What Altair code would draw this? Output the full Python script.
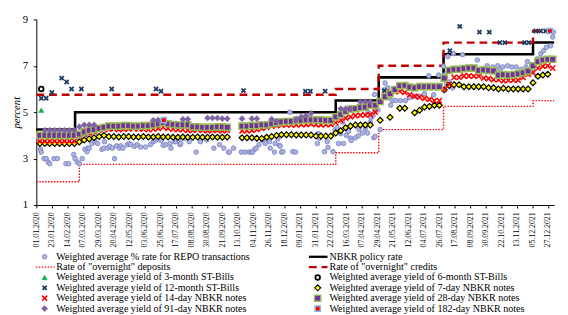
import altair as alt
import pandas as pd

# ---------------- data ----------------
S_REPO = "Weighted average % rate for REPO transactions"
S_POL = "NBKR policy rate"
S_DEP = 'Rate of "overnight" deposits'
S_CRED = 'Rate of "overnight" credits'
S_3M = "Weighted average yield of 3-month ST-Bills"
S_6M = "Weighted average yield of 6-month ST-Bills"
S_12M = "Weighted average yield of 12-month ST-Bills"
S_7D = "Weighted average yield of 7-day NBKR notes"
S_14D = "Weighted average yield of 14-day NBKR notes"
S_28D = "Weighted average yield of 28-day NBKR notes"
S_91D = "Weighted average yield of 91-day NBKR notes"
S_182D = "Weighted average yield of 182-day NBKR notes"

x_ticks = ["01.01.2020", "23.01.2020", "14.02.2020", "07.03.2020", "29.03.2020", "20.04.2020",
           "12.05.2020", "03.06.2020", "25.06.2020", "17.07.2020", "08.08.2020", "30.08.2020",
           "21.09.2020", "13.10.2020", "04.11.2020", "26.11.2020", "18.12.2020", "09.01.2021",
           "31.01.2021", "22.02.2021", "16.03.2021", "07.04.2021", "29.04.2021", "21.05.2021",
           "12.06.2021", "04.07.2021", "26.07.2021", "17.08.2021", "08.09.2021", "30.09.2021",
           "22.10.2021", "13.11.2021", "05.12.2021", "27.12.2021"]
y_ticks = [1, 3, 5, 7, 9]
x_domain = ["2020-01-01", "2022-01-05"]

policy_dates = ["2020-01-01", "2020-02-25", "2021-03-01", "2021-05-01", "2021-08-01", "2021-12-06", "2022-01-05"]
policy_vals = [4.25, 5.0, 5.5, 6.5, 7.5, 8.0, 8.0]
credit_dates = ["2020-01-01", "2021-03-01", "2021-05-01", "2021-08-01", "2021-12-06", "2022-01-05"]
credit_vals = [5.75, 6.0, 7.0, 8.0, 8.5, 8.5]
deposit_dates = ["2020-01-01", "2020-03-02", "2021-03-01", "2021-05-01", "2021-08-01", "2021-12-06", "2022-01-05"]
deposit_vals = [2.0, 2.75, 3.25, 4.25, 5.25, 5.5, 5.5]

# weekly auction results (first week 2020-01-06)
week_start = "2020-01-06"
seven_day = ([3.65, 3.65, 3.65, 3.65, 3.65, 3.65, 3.65, 3.65,
              3.72, 3.8, 3.85, 3.9, 3.95, 4.0,
              3.95, 3.95, 3.93, 3.95, 3.95, 3.93, 3.93, 3.95, 3.93, 3.93, 3.95, 3.93, 3.93,
              3.92, 3.92, 3.93, 3.92, 3.92, 3.93, 3.92, 3.92, 3.93, 3.92, 3.92, 3.93,
              None, None,
              3.9, 3.9, 3.9, 3.88, 3.87, 3.92, 3.95, 4.0, 4.03, 4.03, 4.03,
              4.02, 4.02, 4.02, 4.02, 3.97, 3.97, 3.97, 3.97,
              4.1, 4.2, 4.33, 4.4, 4.45, 4.45, 4.45, 4.45,
              None, 4.65, None, 4.78, None, 5.17, 5.17, None, 4.98, 5.08, 5.22, 5.25, 5.3, 5.3,
              5.97, 6.15, 6.18, 6.18,
              6.1, 6.1, 6.1, 6.1, 6.1, 6.05, 6.05, 6.0, 6.03, 6.0, 6.0, 6.0, 6.0, 6.0,
              6.27, 6.55, 6.6, 6.64, None])
fourteen_day = ([3.75, 3.75, 3.75, 3.75, 3.75, 3.75, 3.75, 3.75,
                 3.95, 4.05, 4.1, 4.15, 4.22,
                 4.25, 4.27, 4.28, 4.25, 4.27, 4.28, 4.3, 4.28, 4.27, 4.25,
                 4.27, 4.3, 4.35, 4.3, 4.27, 4.25, 4.25, 4.22, 4.22, 4.25,
                 4.22, 4.2, 4.22, 4.22, 4.2, 4.22,
                 None, None,
                 4.2, 4.2, 4.22, 4.25, 4.3, 4.35, 4.4, 4.42, 4.45, 4.45, 4.45,
                 4.45, 4.47, 4.47, 4.5, 4.47, 4.45, 4.47, 4.47,
                 4.55, 4.65, 4.75, 4.8, 4.85, 4.87, 4.88, 4.9, 5.0,
                 5.5, 5.75, 5.88, 5.88, 5.9, 5.85, 5.75, 5.68, 5.65, 5.6, 5.55, 5.5, 5.5,
                 6.0, 6.2, 6.5, 6.5, 6.56, 6.56, 6.55, 6.55, 6.47, 6.45, 6.4, 6.4,
                 6.35, 6.38, 6.38, 6.38, 6.5, 6.63, 6.7, 6.9, 6.98, 7.0, 6.9])
twentyeight_day = ([4.0, 4.0, 4.0, 4.0, 4.0, 4.0, 4.0, 4.0,
                    4.05, 4.15, 4.22, 4.25, 4.3, 4.35, 4.4,
                    4.4, 4.4, 4.42, 4.42, 4.4, 4.4, 4.42, 4.42, 4.45,
                    4.5, 4.55, 4.5, 4.47, 4.45, 4.45, 4.45,
                    4.37, 4.37, 4.35, 4.35, 4.35, 4.37, 4.37, 4.35,
                    None, None,
                    4.4, 4.4, 4.42, 4.42, 4.45, 4.45, 4.5, 4.55, 4.58, 4.6, 4.6,
                    4.65, 4.65, 4.67, 4.67, 4.67, 4.67, 4.65, 4.65,
                    4.8, 4.9, 5.03, 5.13, 5.15, 5.2, 5.22, 5.3, 5.3,
                    5.46, 5.67, 5.8, 5.97, 6.14, 6.15, 6.08, 6.05, 6.1, 6.1, 6.1, 6.1, 6.1,
                    6.47, 6.8, 6.85, 6.85, 6.88, 6.9, 6.9, 6.8, 6.82, 6.8, 6.78, 6.6,
                    6.62, 6.6, 6.62, 6.65, 6.7, 6.77, 7.0, 7.18, 7.25, 7.28, 7.28])
ninety_one_day = ([None]
                  + [4.22, 4.22, 4.22, 4.22, 4.22, 4.22, 4.22]
                  + [4.37, 4.45, 4.45, 4.45]
                  + [None] * 11
                  + [4.65, 4.66]
                  + [None] * 4
                  + [4.7, 4.7]
                  + [None] * 3
                  + [4.75, 4.75, 4.75, 4.72, 4.72]
                  + [None] * 2
                  + [4.72, None, 4.72, 4.72, None, None, 4.7, 4.62]
                  + [None] * 3
                  + [4.7, 4.8, 4.85, 4.95]
                  + [None] * 5
                  + [5.15, 5.15, 5.15, None, 5.45, 5.45, 5.45]
                  + [None] * 37)

repo_dates = ["2020-01-07", "2020-01-08", "2020-01-12", "2020-01-15", "2020-01-18", "2020-01-20",
              "2020-01-26", "2020-01-31", "2020-02-12", "2020-02-16", "2020-02-23", "2020-02-25",
              "2020-02-28", "2020-03-02", "2020-03-06", "2020-03-10", "2020-03-13", "2020-03-14",
              "2020-03-16", "2020-03-20", "2020-03-24", "2020-03-28", "2020-04-03", "2020-04-06",
              "2020-04-07", "2020-04-11", "2020-04-14", "2020-04-18", "2020-04-21", "2020-04-24",
              "2020-04-28", "2020-04-30", "2020-05-03", "2020-05-09", "2020-05-12", "2020-05-14",
              "2020-05-19", "2020-05-23", "2020-05-28", "2020-06-04", "2020-06-11", "2020-06-15",
              "2020-06-18", "2020-06-22", "2020-06-26", "2020-06-29", "2020-07-03", "2020-07-09",
              "2020-07-10", "2020-07-16", "2020-07-17", "2020-07-21", "2020-07-23", "2020-07-24",
              "2020-07-30", "2020-08-05", "2020-08-15", "2020-08-21", "2020-08-30", "2020-09-09",
              "2020-09-17", "2020-09-23", "2020-09-30", "2020-10-01", "2020-10-07", "2020-10-18",
              "2020-10-23", "2020-10-29", "2020-11-01", "2020-11-03", "2020-11-06", "2020-11-08",
              "2020-11-12", "2020-11-17", "2020-11-21", "2020-11-27", "2020-11-28", "2020-12-04",
              "2020-12-05", "2020-12-09", "2020-12-11", "2020-12-12", "2020-12-14", "2020-12-16",
              "2020-12-26", "2020-12-30",
              "2021-01-03", "2021-02-03", "2021-02-04", "2021-02-06", "2021-02-13", "2021-02-17",
              "2021-02-18", "2021-02-25", "2021-02-28", "2021-03-03", "2021-03-05", "2021-03-08",
              "2021-03-11", "2021-03-12", "2021-03-16", "2021-03-19", "2021-03-22", "2021-03-23",
              "2021-03-29", "2021-04-02", "2021-04-03", "2021-04-08", "2021-04-12", "2021-04-13",
              "2021-04-15", "2021-04-16", "2021-04-19", "2021-04-20", "2021-04-23", "2021-04-24",
              "2021-04-25", "2021-04-26", "2021-04-27", "2021-04-30", "2021-05-03", "2021-05-09",
              "2021-05-10", "2021-05-14", "2021-05-16", "2021-05-18", "2021-05-20", "2021-05-25",
              "2021-06-01", "2021-06-08", "2021-06-14", "2021-06-21", "2021-06-27", "2021-07-05",
              "2021-07-11", "2021-07-18", "2021-07-25", "2021-08-01", "2021-08-02", "2021-08-05",
              "2021-08-07", "2021-08-09", "2021-08-14", "2021-08-15", "2021-08-28", "2021-09-18",
              "2021-10-02", "2021-10-03", "2021-10-10", "2021-10-17", "2021-10-20", "2021-10-24",
              "2021-10-31", "2021-11-06", "2021-11-12", "2021-11-19", "2021-11-26", "2021-11-28",
              "2021-12-05", "2021-12-12", "2021-12-17", "2021-12-21", "2021-12-25", "2021-12-31",
              "2022-01-03", "2022-01-04"]
repo_vals = [3.4, 3.28, 3.0, 3.0, 2.85, 2.78,
             3.0, 3.0, 2.78, 2.78, 3.18, 3.0,
             2.85, 2.78, 3.0, 3.4, 3.3, 3.45,
             3.45, 3.65, 3.73, 3.65, 3.4, 3.45,
             3.73, 3.45, 3.53, 3.45, 3.0, 3.55,
             3.45, 3.55, 3.45, 3.6, 3.65, 3.6,
             3.53, 3.6, 3.5, 3.5, 3.6, 3.73,
             3.78, 3.85, 3.78, 3.57, 3.6, 3.65,
             3.45, 3.73, 3.73, 3.8, 3.6, 3.65,
             3.88, 3.73, 3.28, 3.73, 3.8, 3.45,
             3.6, 3.45, 3.28, 3.28, 3.45, 3.28,
             3.28, 3.28, 3.28, 3.28, 3.4, 3.45,
             3.6, 3.8, 3.65, 3.73, 3.45, 3.28,
             3.65, 3.85, 3.57, 3.53, 3.28, 3.3,
             5.0, 3.3,
             3.28, 3.65, 4.08, 3.88, 3.3, 3.73,
             3.48, 3.3, 4.23, 4.33, 3.65, 4.07,
             4.57, 3.65, 4.0, 4.17, 3.88, 3.78,
             3.9, 3.98, 4.25, 4.1, 4.3, 4.45,
             4.1, 5.0, 4.57, 4.75, 4.86, 3.9,
             5.76, 3.95, 5.08, 5.1, 4.25, 5.97,
             6.26, 6.05, 5.63, 5.3, 5.5, 5.5,
             5.5, 5.5, 5.63, 5.7, 5.7, 5.8,
             6.57, 5.75, 6.6, 6.98, 6.6, 6.26,
             7.4, 6.3, 6.05, 7.53, 7.48, 7.25,
             7.0, 6.8, 6.95, 7.0, 6.85, 6.95,
             7.0, 6.95, 6.95, 6.85, 6.95, 7.18,
             6.8, 7.3, 7.52, 7.65, 7.8, 7.86,
             8.24, 8.45]

bill3_dates = ["2020-01-08"]
bill3_vals = [5.08]
bill6_dates = ["2020-01-08"]
bill6_vals = [6.0]
bill12_dates = ["2020-01-08", "2020-01-15", "2020-01-23", "2020-02-06", "2020-02-13", "2020-02-20",
                "2020-03-05", "2020-04-17", "2020-06-19", "2020-06-26", "2020-10-21", "2021-01-17",
                "2021-01-24", "2021-02-14", "2021-05-09", "2021-08-10", "2021-08-24", "2021-09-21",
                "2021-10-05", "2021-10-20", "2021-10-27", "2021-11-24", "2021-11-30", "2021-12-10",
                "2021-12-17", "2021-12-24"]
bill12_vals = [5.6, 5.6, 5.85, 6.47, 6.3, 6.0,
               6.0, 6.0, 6.0, 5.9, 5.93, 5.9,
               5.9, 5.9, 5.93, 7.65, 8.7, 8.45,
               8.45, 8.0, 8.0, 8.0, 8.0, 8.5,
               8.5, 8.5]
note182_dates = ["2020-06-30", "2021-12-30"]
note182_vals = [4.66, 8.5]

# legend layout (row-major, two columns)
legend_order = [S_REPO, S_POL, S_DEP, S_CRED, S_3M, S_6M, S_12M, S_7D, S_14D, S_28D, S_91D, S_182D]

# ---------------- styles ----------------
XPATH = "M-1,-1L1,1M-1,1L1,-1"
STYLE = {
    S_REPO: dict(kind="point", shape="circle", size=22, fill="#a9b6e3", stroke="#7b7bbb", sw=0.8),
    S_POL: dict(kind="line", stroke="#000000", sw=2.6, dash=None),
    S_DEP: dict(kind="line", stroke="#ff0000", sw=1.4, dash=[1.5, 1.5]),
    S_CRED: dict(kind="line", stroke="#c00000", sw=2.4, dash=[8, 5]),
    S_3M: dict(kind="point", shape="triangle-up", size=28, fill="#00b050", stroke="#00b050", sw=0.5),
    S_6M: dict(kind="point", shape="circle", size=22, fill="#ffffff", stroke="#000000", sw=1.8),
    S_12M: dict(kind="point", shape=XPATH, size=18, fill=None, stroke="#1f3864", sw=1.8),
    S_7D: dict(kind="point", shape="diamond", size=36, fill="#ffff00", stroke="#000000", sw=1.2),
    S_14D: dict(kind="point", shape=XPATH, size=28, fill=None, stroke="#ff0000", sw=1.6),
    S_28D: dict(kind="point", shape="square", size=40, fill="#7030a0", stroke="#9bbb59", sw=1.5),
    S_91D: dict(kind="point", shape="diamond", size=40, fill="#8064a2", stroke="#8064a2", sw=0.5),
    S_182D: dict(kind="point", shape="square", size=28, fill="#ff0000", stroke="#8db3e2", sw=1.5),
}
FONT = "Liberation Serif"


def to_dt(s, fmt):
    t = pd.to_datetime(s, format=fmt)
    return alt.DateTime(year=t.year, month=t.month, date=t.day, utc=True)


weeks = list(pd.date_range(week_start, periods=105, freq="7D").strftime("%Y-%m-%d"))


def frame(dates, vals):
    return pd.DataFrame([{"date": d, "value": v} for d, v in zip(dates, vals) if v is not None])


series_data = {
    S_POL: frame(policy_dates, policy_vals),
    S_DEP: frame(deposit_dates, deposit_vals),
    S_CRED: frame(credit_dates, credit_vals),
    S_REPO: frame(repo_dates, repo_vals),
    S_3M: frame(bill3_dates, bill3_vals),
    S_6M: frame(bill6_dates, bill6_vals),
    S_12M: frame(bill12_dates, bill12_vals),
    S_7D: frame(weeks, seven_day),
    S_14D: frame(weeks, fourteen_day),
    S_28D: frame(weeks, twentyeight_day),
    S_91D: frame(weeks, ninety_one_day),
    S_182D: frame(note182_dates, note182_vals),
}

x_scale = alt.Scale(type="utc", domain=[to_dt(d, "%Y-%m-%d") for d in x_domain])
y_scale = alt.Scale(domain=[y_ticks[0], y_ticks[-1]], nice=False, zero=False)
x_axis = alt.Axis(values=[to_dt(t, "%d.%m.%Y") for t in x_ticks], format="%d.%m.%Y",
                  labelAngle=-90, labelFont=FONT, labelFontSize=8, labelPadding=4,
                  labelOverlap=False, labelFlush=False, tickSize=3, grid=False, title=None)
y_axis = alt.Axis(values=y_ticks, title="percent", titleFont=FONT, titleFontStyle="italic",
                  titleFontWeight="normal", titleFontSize=11, titlePadding=1,
                  labelFont=FONT, labelFontSize=11, labelPadding=6, tickSize=3, grid=False)

main_layers = []
draw_order = [S_POL, S_DEP, S_CRED, S_REPO, S_3M, S_6M, S_12M, S_7D, S_14D, S_28D, S_91D, S_182D]
for name in draw_order:
    st = STYLE[name]
    if st["kind"] == "line":
        kw = dict(interpolate="step-after", stroke=st["stroke"], strokeWidth=st["sw"])
        if st["dash"]:
            kw["strokeDash"] = st["dash"]
        mark = alt.Chart(series_data[name]).mark_line(**kw)
    else:
        kw = dict(shape=st["shape"], size=st["size"], stroke=st["stroke"], strokeWidth=st["sw"], opacity=1)
        if st["fill"]:
            kw.update(filled=True, fill=st["fill"])
        else:
            kw.update(filled=False)
        mark = alt.Chart(series_data[name]).mark_point(**kw)
    layer = mark.encode(
        x=alt.X("date:T", scale=x_scale, axis=x_axis),
        y=alt.Y("value:Q", scale=y_scale, axis=y_axis),
    )
    main_layers.append(layer)

main = alt.layer(*main_layers)

# ---------------- legend (drawn below the plot) ----------------
legend_df = pd.DataFrame({
    "label": legend_order,
    "col": [i % 2 for i in range(len(legend_order))],
    "row": [i // 2 for i in range(len(legend_order))],
})
lx = alt.Scale(domain=[0, 1], range=[8.5, 288])
ly = alt.Scale(domain=[0, 5], range=[243, 296])
leg_layers = []
for name in legend_order:
    st = STYLE[name]
    d = legend_df[legend_df["label"] == name]
    if st["kind"] == "line":
        kw = dict(stroke=st["stroke"], strokeWidth=st["sw"] * 0.9, xOffset=-9, x2Offset=10)
        if st["dash"]:
            kw["strokeDash"] = st["dash"]
        lay = alt.Chart(d).mark_rule(**kw).encode(
            x=alt.X("col:Q", scale=lx, axis=None), x2="col:Q",
            y=alt.Y("row:Q", scale=ly, axis=None))
    else:
        kw = dict(shape=st["shape"], size=st["size"], stroke=st["stroke"], strokeWidth=st["sw"], opacity=1)
        if st["fill"]:
            kw.update(filled=True, fill=st["fill"])
        else:
            kw.update(filled=False)
        lay = alt.Chart(d).mark_point(**kw).encode(
            x=alt.X("col:Q", scale=lx, axis=None),
            y=alt.Y("row:Q", scale=ly, axis=None))
    leg_layers.append(lay)
leg_layers.append(
    alt.Chart(legend_df).mark_text(align="left", baseline="middle", dx=12, font=FONT,
                                   fontSize=10.3, color="black").encode(
        x=alt.X("col:Q", scale=lx, axis=None),
        y=alt.Y("row:Q", scale=ly, axis=None),
        text="label:N"))
legend = alt.layer(*leg_layers)

chart = (alt.layer(main, legend)
         .resolve_scale(x="independent", y="independent")
         .properties(width=530, height=190,
                     padding={"left": 2, "top": 2, "right": 0, "bottom": 0})
         .configure_view(stroke=None)
         .configure_axis(domainColor="black", tickColor="black", labelColor="black",
                         titleColor="black"))

chart.save("out.html", embed_options={"renderer": "svg", "actions": False})
